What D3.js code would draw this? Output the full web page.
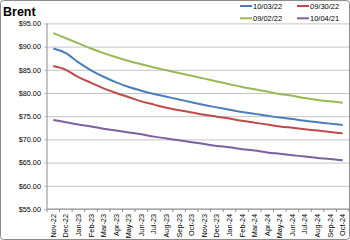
<!DOCTYPE html>
<html>
<head>
<meta charset="utf-8">
<script src="https://cdn.jsdelivr.net/npm/d3@7"></script>
<style>
  body { margin: 0; background: #fff; }
  svg { display: block; font-family: "Liberation Sans", Arial, sans-serif; }
</style>
</head>
<body>
<svg width="350" height="240"></svg>
<script>
var months = ["Nov-22","Dec-22","Jan-23","Feb-23","Mar-23","Apr-23","May-23","Jun-23","Jul-23","Aug-23","Sep-23","Oct-23",
              "Nov-23","Dec-23","Jan-24","Feb-24","Mar-24","Apr-24","May-24","Jun-24","Jul-24","Aug-24","Sep-24","Oct-24"];

var s100322 = [89.6,88.6,86.6,84.9,83.5,82.3,81.3,80.5,79.8,79.2,78.6,78.0,77.4,76.9,76.4,75.9,75.5,75.1,74.7,74.4,74.0,73.7,73.4,73.1];
var s093022 = [85.8,85.0,83.4,82.2,81.0,80.0,79.1,78.2,77.5,76.8,76.3,75.8,75.3,74.9,74.5,74.0,73.6,73.2,72.8,72.5,72.2,71.9,71.6,71.3];
var s090222 = [92.9,91.8,90.7,89.6,88.6,87.7,86.9,86.2,85.5,84.9,84.3,83.7,83.1,82.5,81.9,81.3,80.8,80.3,79.8,79.4,78.9,78.5,78.2,77.9];
var s100421 = [74.2,73.7,73.2,72.8,72.3,71.9,71.5,71.1,70.6,70.2,69.8,69.4,69.0,68.6,68.3,67.9,67.6,67.2,66.9,66.6,66.3,66.0,65.8,65.5];

var yTicks = [55,60,65,70,75,80,85,90,95];

var series = [
  {name: "10/03/22", values: s100322, color: "#4A7EBB"},
  {name: "09/30/22", values: s093022, color: "#BE4B48"},
  {name: "09/02/22", values: s090222, color: "#98B954"},
  {name: "10/04/21", values: s100421, color: "#7D60A0"}
];

var svg = d3.select("svg");
var pLeft = 47, pRight = 349, pTop = 23.4, pBottom = 209;

// chart border
svg.append("rect")
    .attr("x", 0.5).attr("y", 0.5)
    .attr("width", 349).attr("height", 239)
    .attr("rx", 3)
    .attr("fill", "#fff")
    .attr("stroke", "#8c8c8c");

var x = d3.scaleBand().domain(months).range([pLeft, pRight]).paddingInner(0).paddingOuter(0);
var y = d3.scaleLinear().domain([55, 95]).range([pBottom, pTop]);

// gridlines + y labels
var yAxis = svg.append("g")
    .attr("transform", "translate(" + pLeft + ",0)")
    .call(d3.axisLeft(y).tickValues(yTicks).tickFormat(d3.format("$.2f"))
      .tickSizeInner(-(pRight - pLeft)).tickSizeOuter(0).tickPadding(6));
yAxis.select(".domain").remove();
yAxis.selectAll(".tick line").attr("stroke", "#c4c4c4").attr("x1", -3);
yAxis.selectAll(".tick text").attr("font-size", "7.3px").attr("fill", "#000")
    .attr("font-family", "Liberation Sans, Arial, sans-serif");

// axis lines
svg.append("line").attr("x1", pLeft).attr("x2", pLeft).attr("y1", pTop).attr("y2", pBottom)
    .attr("stroke", "#8c8c8c");
svg.append("line").attr("x1", pLeft).attr("x2", pRight).attr("y1", pBottom).attr("y2", pBottom)
    .attr("stroke", "#8c8c8c");

// category boundary ticks
svg.append("g").selectAll("line")
    .data(months.map(function(m) { return x(m); }).concat([pRight]))
    .enter().append("line")
    .attr("x1", function(d) { return d; }).attr("x2", function(d) { return d; })
    .attr("y1", pBottom).attr("y2", pBottom + 3)
    .attr("stroke", "#8c8c8c");

// x labels, rotated
svg.append("g").selectAll("text")
    .data(months)
    .enter().append("text")
    .attr("transform", function(d) {
      return "translate(" + (x(d) + x.bandwidth() / 2 + 2.5) + "," + (pBottom + 5) + ") rotate(-90)";
    })
    .attr("text-anchor", "end")
    .attr("font-size", "7.3px")
    .text(function(d) { return d; });

// lines
var line = d3.line()
    .x(function(d, i) { return x(months[i]) + x.bandwidth() / 2; })
    .y(function(d) { return y(d); })
    .curve(d3.curveMonotoneX);

svg.append("g").selectAll("path")
    .data(series)
    .enter().append("path")
    .attr("d", function(d) { return line(d.values); })
    .attr("fill", "none")
    .attr("stroke", function(d) { return d.color; })
    .attr("stroke-width", 2);

// title
svg.append("text")
    .attr("x", 3).attr("y", 15.5)
    .attr("font-size", "12.5px").attr("font-weight", "bold")
    .text("Brent");

// legend
var legPos = [[240, 6], [297, 6], [240, 18.3], [297, 18.3]];
var leg = svg.append("g").selectAll("g")
    .data(series)
    .enter().append("g")
    .attr("transform", function(d, i) { return "translate(" + legPos[i][0] + "," + legPos[i][1] + ")"; });
leg.append("line")
    .attr("x1", 0).attr("x2", 12)
    .attr("stroke", function(d) { return d.color; })
    .attr("stroke-width", 2);
leg.append("text")
    .attr("x", 13).attr("y", 2.7)
    .attr("font-size", "7.5px")
    .text(function(d) { return d.name; });
</script>
</body>
</html>
